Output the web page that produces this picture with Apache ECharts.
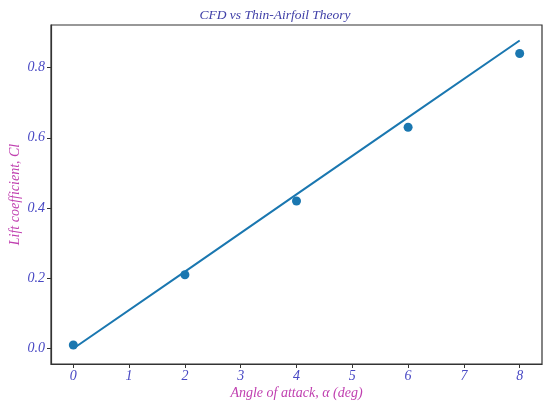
<!DOCTYPE html>
<html>
<head>
<meta charset="utf-8">
<script src="https://cdn.jsdelivr.net/npm/echarts@6/dist/echarts.min.js"></script>
<style>
  html, body { margin: 0; padding: 0; background: #fff; }
  #chart { width: 550px; height: 406px; }
</style>
</head>
<body>
<div id="chart"></div>
<script>
// angle of attack (deg)
var alphas = [0, 2, 4, 6, 8];
// CFD lift coefficients (dots)
var cfdCl = [0.01, 0.21, 0.42, 0.63, 0.84];
// thin-airfoil theory line
var theoryCl = [0, 0.219, 0.439, 0.658, 0.877];
var xTicks = [0, 1, 2, 3, 4, 5, 6, 7, 8];
var yTicks = [0, 0.2, 0.4, 0.6, 0.8];

var serif = '"Liberation Serif", "DejaVu Serif", serif';
var tickColor = '#4848c4';
var nameColor = '#c040b0';
var lineColor = '#1a77b0';

function pairs(xs, ys) {
    var out = [];
    for (var i = 0; i < xs.length; i++) {
        out.push([xs[i], ys[i]]);
    }
    return out;
}

var chart = echarts.init(document.getElementById('chart'));
chart.setOption({
    animation: false,
    title: {
        text: 'CFD vs Thin-Airfoil Theory',
        left: 'center',
        top: 3,
        textStyle: {
            fontFamily: serif,
            fontStyle: 'italic',
            fontWeight: 'normal',
            fontSize: 13.5,
            color: '#4040a8'
        }
    },
    grid: {
        left: 51,
        right: 8,
        top: 25,
        bottom: 42,
        outerBoundsMode: 'none',
        containLabel: false,
        show: true,
        borderColor: '#333',
        borderWidth: 1.2
    },
    xAxis: {
        type: 'value',
        min: -0.4,
        max: 8.4,
        name: 'Angle of attack, α (deg)',
        nameLocation: 'middle',
        nameGap: 22,
        nameMoveOverlap: false,
        nameTextStyle: {
            fontFamily: serif,
            fontStyle: 'italic',
            fontSize: 14,
            color: nameColor
        },
        splitLine: { show: false },
        axisLine: { onZero: false, lineStyle: { color: '#333', width: 1.2 } },
        axisTick: { show: true, length: 4, customValues: xTicks, lineStyle: { color: '#333' } },
        axisLabel: {
            customValues: xTicks,
            margin: 5,
            fontFamily: serif,
            fontStyle: 'italic',
            fontSize: 14,
            color: tickColor
        }
    },
    yAxis: {
        type: 'value',
        min: -0.044,
        max: 0.921,
        name: 'Lift coefficient, Cl',
        nameLocation: 'middle',
        nameGap: 29,
        nameMoveOverlap: false,
        nameTextStyle: {
            fontFamily: serif,
            fontStyle: 'italic',
            fontSize: 14,
            color: nameColor
        },
        splitLine: { show: false },
        axisLine: { show: true, onZero: false, lineStyle: { color: '#333', width: 1.2 } },
        axisTick: { show: true, length: 4, customValues: yTicks, lineStyle: { color: '#333' } },
        axisLabel: {
            customValues: yTicks,
            margin: 6,
            fontFamily: serif,
            fontStyle: 'italic',
            fontSize: 14,
            color: tickColor,
            formatter: function (v) { return v.toFixed(1); }
        }
    },
    series: [
        {
            type: 'line',
            data: pairs(alphas, theoryCl),
            showSymbol: false,
            lineStyle: { color: lineColor, width: 2 },
            silent: true
        },
        {
            type: 'scatter',
            data: pairs(alphas, cfdCl),
            symbolSize: 9,
            itemStyle: { color: lineColor, opacity: 1 }
        }
    ]
});
</script>
</body>
</html>
